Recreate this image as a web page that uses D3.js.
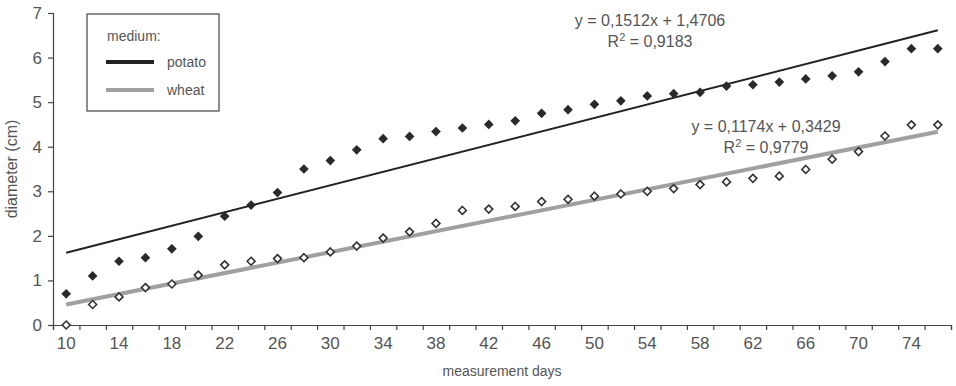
<!DOCTYPE html>
<html>
<head>
<meta charset="utf-8">
<script src="https://cdn.jsdelivr.net/npm/d3@7"></script>
<style>
  body { margin: 0; background: #fff; }
  svg { font-family: "Liberation Sans Narrow", "Arial Narrow", sans-serif; }
</style>
</head>
<body>
<div id="chart"></div>
<script>
// measurement days (categories)
const days = d3.range(10, 77, 2);
const labelDays = d3.range(10, 77, 4);

// diameter (cm)
const potato = [0.70, 1.10, 1.43, 1.51, 1.71, 1.99, 2.44, 2.69, 2.97, 3.50,
  3.69, 3.93, 4.18, 4.23, 4.34, 4.42, 4.50, 4.58, 4.75, 4.83,
  4.95, 5.03, 5.14, 5.19, 5.22, 5.36, 5.39, 5.45, 5.52, 5.59,
  5.68, 5.91, 6.20, 6.20];
const wheat = [0.00, 0.46, 0.63, 0.84, 0.92, 1.12, 1.35, 1.43, 1.49, 1.51,
  1.64, 1.77, 1.95, 2.09, 2.28, 2.57, 2.60, 2.66, 2.77, 2.82,
  2.89, 2.94, 3.00, 3.06, 3.15, 3.21, 3.29, 3.34, 3.49, 3.72,
  3.89, 4.24, 4.49, 4.49];

// linear trends (x = category number 1..n)
const potatoFit = [0.1512, 1.4706];
const wheatFit = [0.1174, 0.3429];
const potatoEq = ["y = 0,1512x + 1,4706", "0,9183"];
const wheatEq = ["y = 0,1174x + 0,3429", "0,9779"];

const width = 956, height = 386;
const margin = { left: 53, right: 5, top: 13, bottom: 61 };
const textColor = "#555";

const svg = d3.select("#chart").append("svg")
  .attr("width", width)
  .attr("height", height);

const x = d3.scaleBand()
  .domain(days)
  .range([margin.left, width - margin.right])
  .paddingInner(0)
  .paddingOuter(0);

const xIdx = d3.scaleLinear()
  .domain([0, days.length])
  .range([margin.left, width - margin.right]);

const y = d3.scaleLinear()
  .domain([0, 7])
  .range([height - margin.bottom, margin.top]);

const cx = d => x(d) + x.bandwidth() / 2;

// axes
const yAxis = svg.append("g")
  .attr("transform", `translate(${margin.left},0)`)
  .call(d3.axisLeft(y).ticks(7).tickSize(5).tickPadding(6));
yAxis.selectAll("text").attr("font-size", 17).attr("fill", textColor);

const xTicks = svg.append("g")
  .attr("transform", `translate(0,${y(0)})`)
  .call(d3.axisBottom(xIdx).ticks(days.length).tickSize(5).tickFormat(""));

const xLabels = svg.append("g")
  .attr("transform", `translate(0,${y(0)})`)
  .call(d3.axisBottom(x).tickValues(labelDays).tickSize(0).tickPadding(12));
xLabels.select(".domain").remove();
xLabels.selectAll("text").attr("font-size", 17).attr("fill", textColor);

svg.selectAll(".domain, .tick line").attr("stroke", "#444").attr("stroke-width", 1.2);

// axis titles
svg.append("text")
  .attr("x", (margin.left + width - margin.right) / 2)
  .attr("y", 376)
  .attr("text-anchor", "middle")
  .attr("font-size", 14)
  .attr("fill", textColor)
  .text("measurement days");

svg.append("text")
  .attr("transform", `translate(17,${y(3.5)}) rotate(-90)`)
  .attr("text-anchor", "middle")
  .attr("font-size", 16)
  .attr("fill", textColor)
  .text("diameter (cm)");

// trend lines
const trend = (fit, color, w) => {
  const n = days.length;
  svg.append("line")
    .attr("x1", cx(days[0])).attr("y1", y(fit[0] * 1 + fit[1]))
    .attr("x2", cx(days[n - 1])).attr("y2", y(fit[0] * n + fit[1]))
    .attr("stroke", color)
    .attr("stroke-width", w);
};
trend(wheatFit, "#a0a0a0", 4);
trend(potatoFit, "#222", 2);

// markers
const diamond = d3.symbol().type(d3.symbolDiamond2);

svg.append("g").selectAll("path")
  .data(days)
  .join("path")
    .attr("d", diamond.size(60))
    .attr("transform", (d, i) => `translate(${cx(d)},${y(potato[i])})`)
    .attr("fill", "#2a2a2a");

svg.append("g").selectAll("path")
  .data(days)
  .join("path")
    .attr("d", diamond.size(40))
    .attr("transform", (d, i) => `translate(${cx(d)},${y(wheat[i])})`)
    .attr("fill", "#fff")
    .attr("stroke", "#333")
    .attr("stroke-width", 1.6);

// equations
const equation = (eq, xc, y1) => {
  svg.append("text")
    .attr("x", xc).attr("y", y1)
    .attr("text-anchor", "middle")
    .attr("font-size", 16)
    .attr("fill", textColor)
    .text(eq[0]);
  const t = svg.append("text")
    .attr("x", xc).attr("y", y1 + 21)
    .attr("text-anchor", "middle")
    .attr("font-size", 16)
    .attr("fill", textColor);
  t.append("tspan").text("R");
  t.append("tspan").attr("font-size", 11).attr("dy", -6).text("2");
  t.append("tspan").attr("dy", 6).text(" = " + eq[1]);
};
equation(potatoEq, 650, 26);
equation(wheatEq, 766, 132);

// legend
const legend = svg.append("g");
legend.append("rect")
  .attr("x", 87).attr("y", 14)
  .attr("width", 132).attr("height", 97)
  .attr("fill", "#fff")
  .attr("stroke", "#444")
  .attr("stroke-width", 1.2);
legend.append("text")
  .attr("x", 107).attr("y", 41)
  .attr("font-size", 14)
  .attr("fill", textColor)
  .text("medium:");
const legendItems = [["potato", "#222"], ["wheat", "#a0a0a0"]];
legendItems.forEach(([name, color], i) => {
  const ly = 62 + i * 28;
  legend.append("line")
    .attr("x1", 106).attr("x2", 154)
    .attr("y1", ly).attr("y2", ly)
    .attr("stroke", color)
    .attr("stroke-width", 4);
  legend.append("text")
    .attr("x", 167).attr("y", ly + 5)
    .attr("font-size", 14)
    .attr("fill", textColor)
    .text(name);
});
</script>
</body>
</html>
